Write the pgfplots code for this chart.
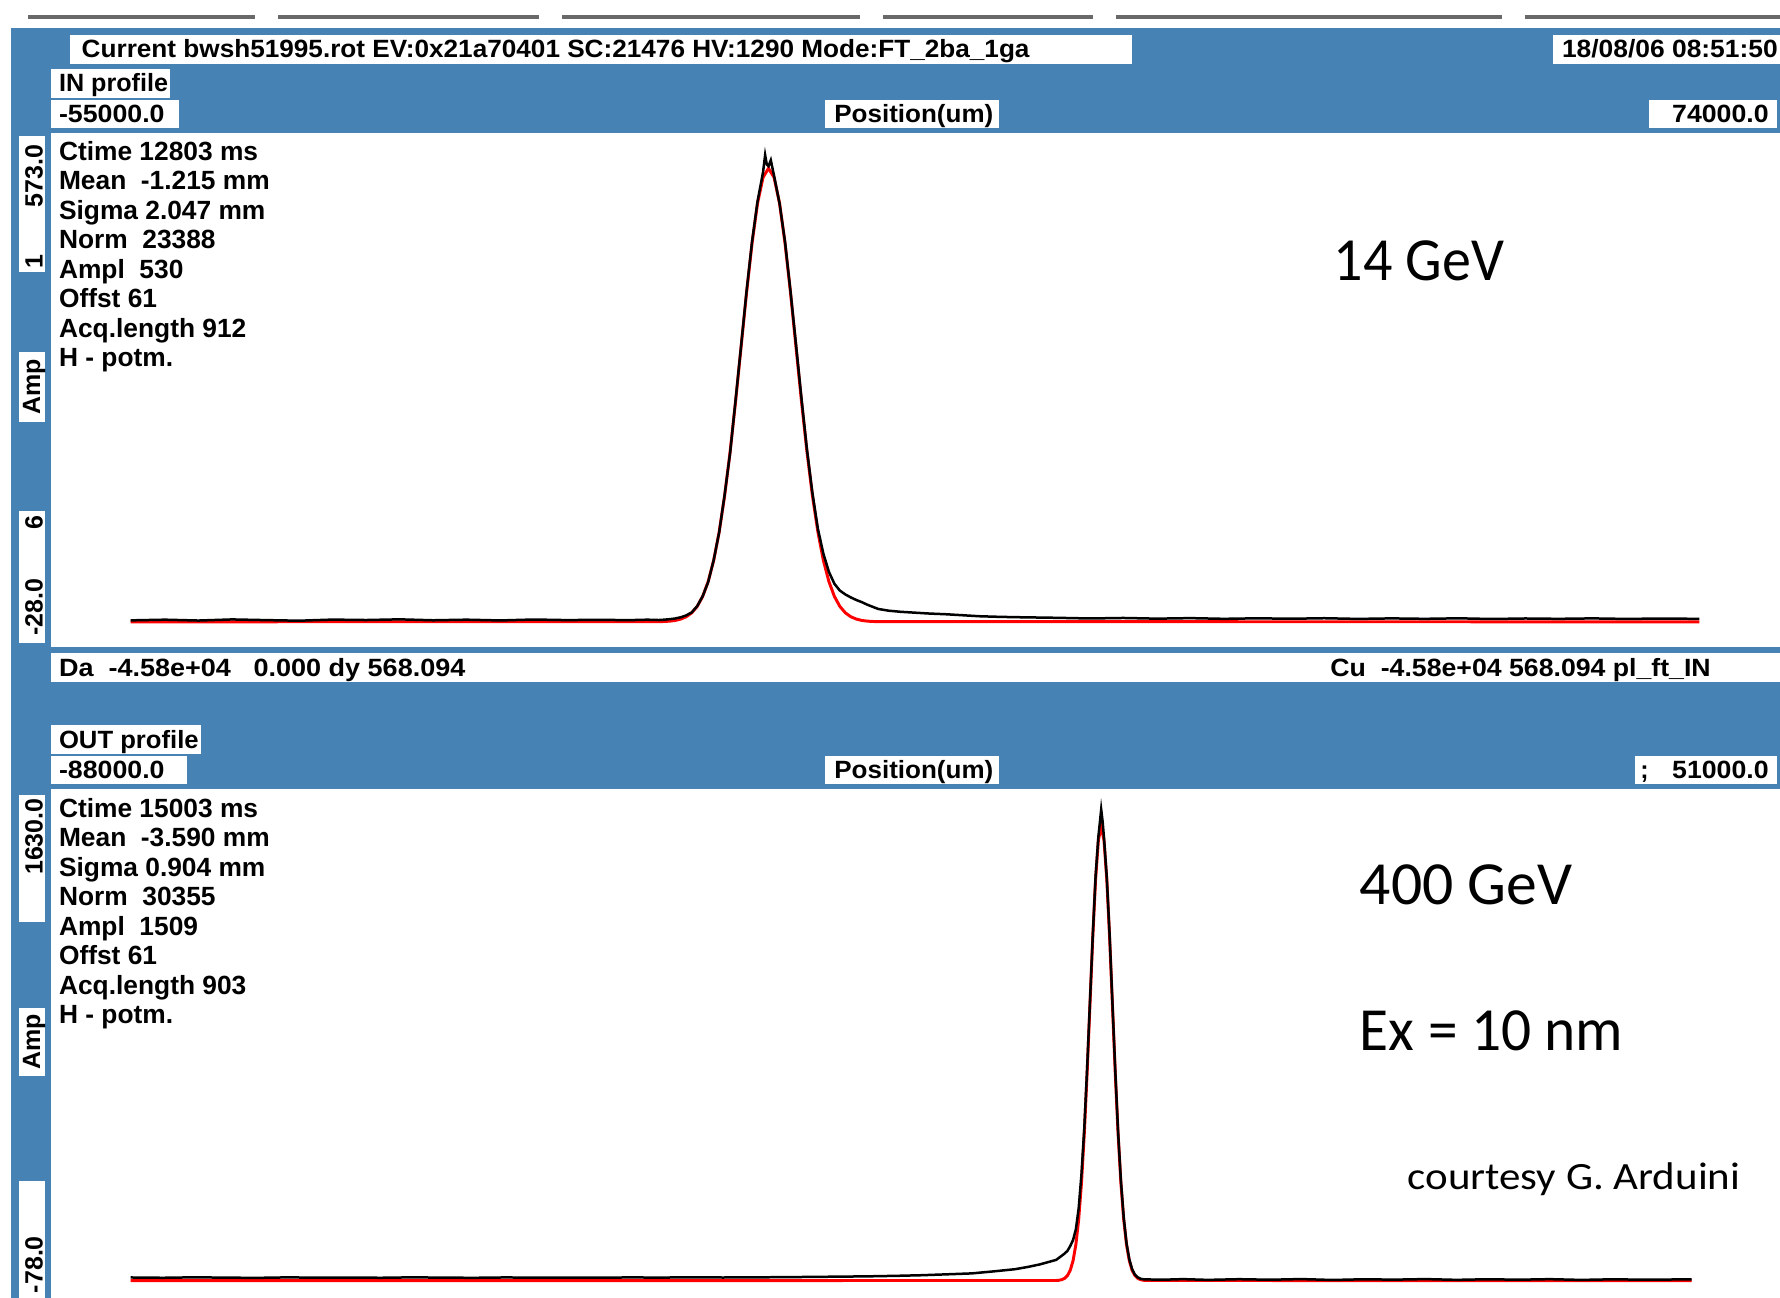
\documentclass[border=0pt]{standalone}
\usepackage{pgfplots}
\pgfplotsset{compat=1.18}
\usepackage{fontspec}
\setmainfont{Liberation Sans}
\newfontfamily\annot{Carlito}
\usepackage{graphicx}
\definecolor{panel}{RGB}{70,130,180}
\definecolor{seg}{RGB}{105,105,105}
\newcommand\fitw[2]{\resizebox{#1}{\height}{#2}}
\begin{document}
\begin{tikzpicture}
\useasboundingbox (0pt,0pt) rectangle (784pt,-571.5pt);
\begin{scope}[x=0.5pt,y=-0.5pt]
\fill[white] (0,0) rectangle (1568,1143);
\foreach \p/\q in {25/225,245/475,495/758,778/963,983/1323,1343/1568}
  \draw[seg,line width=1.5pt] (\p,15) -- (\q,15);
\fill[panel] (10,25) rectangle (1568,1143);
% header boxes
\fill[white] (62,31) rectangle (997,56);
\fill[white] (1368,31) rectangle (1568,56);
\fill[white] (45,61) rectangle (150,86);
\fill[white] (45,88) rectangle (158,113);
\fill[white] (727,88) rectangle (880,113);
\fill[white] (1453,88) rectangle (1565,113);
% upper plot area
\fill[white] (45,117) rectangle (1568,570);
\fill[white] (17,120) rectangle (40,240);
\fill[white] (17,310) rectangle (40,372);
\fill[white] (17,450) rectangle (40,566);
% Da bar
\fill[white] (45,575) rectangle (1568,601);
% lower header
\fill[white] (45,639) rectangle (177,664);
\fill[white] (45,666) rectangle (165,691);
\fill[white] (727,666) rectangle (880,691);
\fill[white] (1440,666) rectangle (1565,691);
% lower plot area
\fill[white] (45,695) rectangle (1568,1143);
\fill[white] (17,700) rectangle (40,812);
\fill[white] (17,888) rectangle (40,948);
\fill[white] (17,1040) rectangle (40,1143);
\end{scope}

% ---------------- upper profile ----------------
\begin{axis}[at={(22.5pt,-285pt)}, anchor=south west, width=761.5pt, height=226.5pt,
  scale only axis, hide axis, clip=true,
  xmin=-55000, xmax=74000, ymin=-28, ymax=573]
\addplot[red, line width=1.3pt, no markers] coordinates {
(-49070,1.5) (-9658,1.7) (-9249,1.9) (-8839,2.3) (-8430,3.1) (-8020,4.7) (-7611,7.4)
(-7202,12.0) (-6792,19.5) (-6383,31.2) (-5973,48.6) (-5564,73.2) (-5155,106.4)
(-4745,148.9) (-4336,200.4) (-3926,259.5) (-3517,323.0) (-3108,386.4) (-2698,444.2)
(-2289,490.8) (-1879,521.0) (-1470,531.5) (-1061,521.0) (-651,490.8) (-242,444.2)
(168,386.4) (577,323.0) (986,259.5) (1396,200.4) (1805,148.9) (2215,106.4) (2624,73.2)
(3033,48.6) (3443,31.2) (3852,19.5) (4262,12.0) (4671,7.4) (5080,4.7) (5490,3.1)
(5899,2.3) (6309,1.9) (6718,1.7) (67985,1.5)};
\addplot[black, line width=1.1pt, no markers] coordinates {
(-49070,3.2) (-46500,4.0) (-44000,3.0) (-41500,4.3) (-39000,3.5) (-36500,2.8) (-34000,4.1)
(-31500,3.6) (-29000,4.4) (-26500,3.3) (-24000,4.0) (-21500,3.1) (-19000,4.2) (-16500,3.5)
(-14000,3.9) (-12000,3.4) (-10500,4.0) (-9658,3.6) (-9249,4.0) (-8839,4.6) (-8430,5.4)
(-8020,6.8) (-7611,9.0) (-7202,12.5) (-6792,19.8) (-6383,31.5) (-5973,48.0) (-5564,73.5)
(-5155,106) (-4745,150) (-4336,199) (-3926,261) (-3517,324) (-3108,388) (-2698,446)
(-2289,493) (-1879,527) (-1724,547) (-1600,536) (-1470,534) (-1300,541) (-1061,523)
(-651,491) (-242,446) (168,388) (577,326) (986,263) (1396,203) (1805,152) (2215,110)
(2624,81) (3033,60) (3443,46) (3852,38) (4262,33.5) (4671,30) (5080,27) (5490,24.5)
(5899,21.5) (6309,19) (6718,16.5) (7500,14.5) (8400,13.2) (9339,12.3) (10500,11.2)
(11829,10.3) (13000,9.2) (14285,8.0) (15800,7.3) (17420,6.8) (20000,6.2) (22500,5.4)
(25000,6.0) (27500,5.2) (30000,5.8) (32500,5.0) (35000,5.6) (37500,5.1) (40000,5.7)
(42500,4.9) (45000,5.5) (47500,5.0) (50000,5.6) (52500,4.8) (55000,5.4) (57500,5.0)
(60000,5.5) (62500,4.9) (65000,5.3) (67985,5.0)};
\end{axis}

% ---------------- lower profile ----------------
\begin{axis}[at={(22.5pt,-574pt)}, anchor=south west, width=761.5pt, height=226.5pt,
  scale only axis, hide axis, clip=true,
  xmin=-88000, xmax=51000, ymin=-78, ymax=1630]
\addplot[red, line width=1.3pt, no markers] coordinates {
(-81611,-3) (-7191,-2.5) (-6965,-1.7) (-6739,0.3) (-6513,4.7) (-6287,13.8) (-6061,31.4)
(-5835,63.3) (-5609,117.1) (-5383,201.2) (-5157,323.4) (-4931,486.9) (-4705,687.9)
(-4479,912.3) (-4253,1136.1) (-4027,1328.7) (-3801,1459.6) (-3575,1506) (-3349,1459.6)
(-3123,1328.7) (-2897,1136.1) (-2671,912.3) (-2445,687.9) (-2219,486.9) (-1993,323.4)
(-1767,201.2) (-1541,117.1) (-1315,63.3) (-1089,31.4) (-863,13.8) (-637,4.7) (-411,0.3)
(-185,-1.7) (41,-2.5) (43885,-3)};
\addplot[black, line width=1.1pt, no markers] coordinates {
(-81611,7.5) (-79000,6.5) (-76500,8.0) (-74000,7.0) (-71500,6.2) (-69000,7.8) (-66500,6.8)
(-64000,7.4) (-61500,6.5) (-59000,7.9) (-56500,7.0) (-54000,6.4) (-51500,7.6) (-49000,6.9)
(-46500,7.3) (-44000,6.6) (-41500,7.7) (-39000,7.1) (-36500,8.2) (-34000,7.4) (-31500,8.0)
(-29000,8.5) (-26666,9.5) (-24000,10.5) (-22000,11.5) (-20000,13) (-18000,15) (-16300,17.5)
(-14000,21) (-12280,27.5) (-10500,35) (-9405,43) (-8500,51) (-7800,59) (-7191,66) (-6965,73)
(-6739,80) (-6513,87) (-6287,96) (-6061,112) (-5835,132) (-5609,168) (-5383,238) (-5157,352)
(-4931,505) (-4705,702) (-4479,922) (-4253,1142) (-4027,1338) (-3801,1472) (-3690,1515)
(-3575,1562) (-3460,1522) (-3349,1468) (-3123,1335) (-2897,1145) (-2671,920) (-2445,697)
(-2219,494) (-1993,331) (-1767,208) (-1541,122) (-1315,68) (-1089,35) (-863,17) (-637,8)
(-411,3.5) (-185,1.5) (41,1.0) (1500,0.2) (3000,2.0) (5000,-0.5) (7500,1.8) (10000,0.0)
(12500,2.2) (15000,-0.8) (17500,1.5) (20000,0.3) (22500,2.1) (25000,-0.4) (27500,1.6)
(30000,0.1) (32500,1.9) (35000,-0.6) (37500,1.4) (40000,0.2) (43885,1.2)};
\end{axis}

% ---------------- texts ----------------
\begin{scope}[x=0.5pt,y=-0.5pt, every node/.style={inner sep=0pt, outer sep=0pt,
  font=\bfseries\fontsize{11}{13}\selectfont}]
\node[anchor=base west] at (72,51) {\fitw{417.5pt}{Current bwsh51995.rot EV:0x21a70401 SC:21476 HV:1290 Mode:FT\_2ba\_1ga}};
\node[anchor=base west] at (1376,51) {\fitw{95pt}{18/08/06 08:51:50}};
\node[anchor=base west] at (52,81) {\fitw{48pt}{IN profile}};
\node[anchor=base west] at (52,108) {\fitw{46.5pt}{-55000.0}};
\node[anchor=base west] at (735,108) {\fitw{70pt}{Position(um)}};
\node[anchor=base west] at (1473,108) {\fitw{42.5pt}{74000.0}};
% upper stats
\begin{scope}[every node/.append style={font=\bfseries\fontsize{11.6}{13}\selectfont}]
\node[anchor=base west] at (52,141) {Ctime 12803 ms};
\node[anchor=base west] at (52,167) {Mean\ \ -1.215 mm};
\node[anchor=base west] at (52,193) {Sigma 2.047 mm};
\node[anchor=base west] at (52,219) {Norm\ \ 23388};
\node[anchor=base west] at (52,245) {Ampl\ \ 530};
\node[anchor=base west] at (52,271) {Offst 61};
\node[anchor=base west] at (52,297) {Acq.length 912};
\node[anchor=base west] at (52,323) {H - potm.};
% lower stats
\node[anchor=base west] at (52,720) {Ctime 15003 ms};
\node[anchor=base west] at (52,746) {Mean\ \ -3.590 mm};
\node[anchor=base west] at (52,772) {Sigma 0.904 mm};
\node[anchor=base west] at (52,798) {Norm\ \ 30355};
\node[anchor=base west] at (52,824) {Ampl\ \ 1509};
\node[anchor=base west] at (52,850) {Offst 61};
\node[anchor=base west] at (52,876) {Acq.length 903};
\node[anchor=base west] at (52,902) {H - potm.};
\end{scope}
% upper left labels
\node[rotate=90] at (30,155) {573.0};
\node[rotate=90] at (30,230) {1};
\node[rotate=90] at (30,341) {Amp};
\node[rotate=90] at (30,460) {6};
\node[rotate=90] at (30,535) {-28.0};
% Da bar
\node[anchor=base west] at (52,595.5) {\fitw{179pt}{Da\ \ -4.58e+04\ \ \ 0.000 dy 568.094}};
\node[anchor=base west] at (1172,595.5) {\fitw{167.5pt}{Cu\ \ -4.58e+04 568.094 pl\_ft\_IN}};
% lower header
\node[anchor=base west] at (52,659) {\fitw{61.5pt}{OUT profile}};
\node[anchor=base west] at (52,686) {\fitw{46.5pt}{-88000.0}};
\node[anchor=base west] at (735,686) {\fitw{70pt}{Position(um)}};
\node[anchor=base west] at (1445,686) {;};
\node[anchor=base west] at (1473,686) {\fitw{42.5pt}{51000.0}};
% lower left labels
\node[rotate=90] at (30,737) {1630.0};
\node[rotate=90] at (30,918) {Amp};
\node[rotate=90] at (30,1114) {-78.0};
% annotations
\node[anchor=base west, font=\annot\fontsize{27}{30}\selectfont] at (1175,247) {\fitw{75pt}{14 GeV}};
\node[anchor=base west, font=\annot\fontsize{27}{30}\selectfont] at (1198,797) {\fitw{93.5pt}{400 GeV}};
\node[anchor=base west, font=\annot\fontsize{27}{30}\selectfont] at (1198,925) {\fitw{116pt}{Ex = 10 nm}};
\node[anchor=base west, font=\annot\fontsize{17}{19}\selectfont] at (1240,1048) {\fitw{146.5pt}{courtesy G. Arduini}};
\end{scope}
\end{tikzpicture}
\end{document}
